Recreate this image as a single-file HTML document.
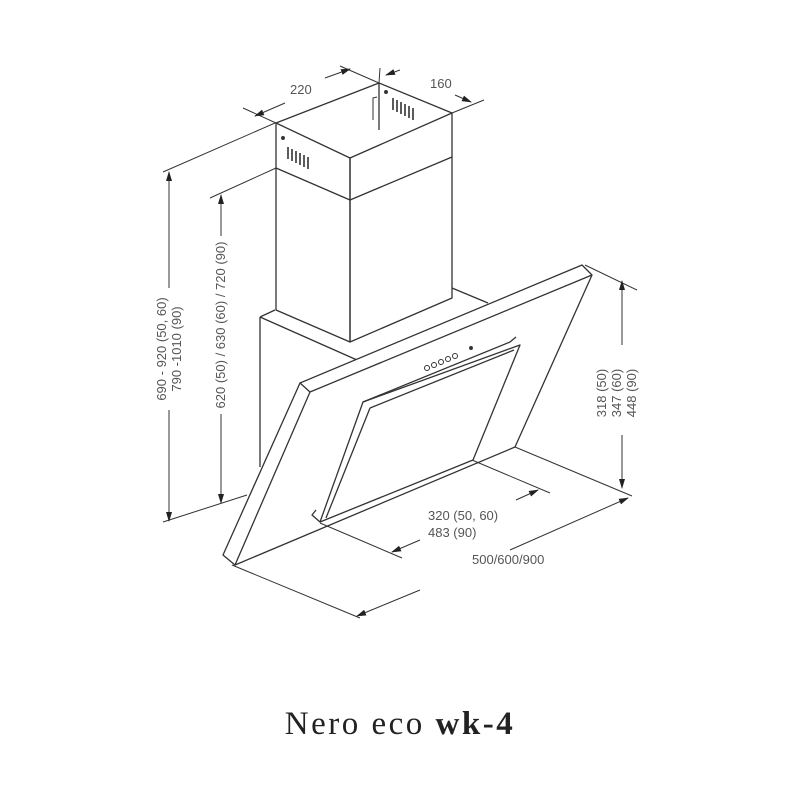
<!DOCTYPE html>
<html><head><style>
html,body{margin:0;padding:0;background:#fff;width:800px;height:800px;overflow:hidden}
svg{display:block}
text{font-family:"Liberation Sans",sans-serif;fill:#555;font-size:13px}
</style></head><body>
<svg width="800" height="800" viewBox="0 0 800 800" xmlns="http://www.w3.org/2000/svg">
<defs>
<marker id="a" markerWidth="10" markerHeight="8" refX="9" refY="4" orient="auto" markerUnits="userSpaceOnUse"><path d="M0,1 L10,4 L0,7 z" fill="#222"/></marker>
</defs>
<g fill="none" stroke="#333" stroke-width="1.3" stroke-linejoin="round">
<path d="M276,123 L379,83 L452,113 L350,158 Z" fill="#fff"/>
<path d="M276,123 L276,310 L350,342 L350,158"/>
<path d="M350,158 L350,342 L452,298 L452,113"/>
<path d="M276,168 L350,200 L452,157"/>
<path d="M379,83 L379,130" />
<path d="M373,120 L373,98 L377,97" stroke-width="1"/>
<g stroke-width="1.6">
<path d="M288,147 v12 M292,149 v12 M296,151 v12 M300,153 v12 M304,155 v12 M308,157 v12"/>
<path d="M393,98 v12 M397,100 v12 M401,102 v12 M405,104 v12 M409,106 v12 M413,108 v12"/>
</g>
<circle cx="283" cy="138" r="1.3" fill="#333"/>
<circle cx="386" cy="92" r="1.3" fill="#333"/>
<path d="M260,317 L275,310 M260,317 L357,360 M260,317 L260,467 M452,288 L488,303"/>
<path d="M300,383 L582,265 L592,275 L515,447 L235,565 L223,555 Z" fill="#fff"/>
<path d="M300,383 L310,392 L592,275 M310,392 L235,565"/>
<path d="M363,402 L520,345 L473,460 L320,522 Z"/>
<path d="M370,408 L514,350 M370,408 L326,518"/>
<path d="M363,402 L510,342 L516,337 M320,522 L312,515 L316,510"/>
<g stroke-width="1">
<circle cx="427" cy="368" r="2.5"/><circle cx="434" cy="365" r="2.5"/><circle cx="441" cy="362" r="2.5"/><circle cx="448" cy="359" r="2.5"/><circle cx="455" cy="356" r="2.5"/>
</g>
<circle cx="471" cy="348" r="1.3" fill="#333"/>
</g>
<g fill="none" stroke="#333" stroke-width="1">
<path d="M163,172 L275,123 M163,522 L247,495 M210,198 L276,168"/>
<path d="M169,288 L169,172" marker-end="url(#a)"/>
<path d="M169,410 L169,521" marker-end="url(#a)"/>
<path d="M221,236 L221,195" marker-end="url(#a)"/>
<path d="M221,414 L221,503" marker-end="url(#a)"/>
<path d="M585,265 L637,290 M515,447 L632,496"/>
<path d="M622,345 L622,281" marker-end="url(#a)"/>
<path d="M622,435 L622,488" marker-end="url(#a)"/>
<path d="M232,565 L360,618"/>
<path d="M420,590 L357,616" marker-end="url(#a)"/>
<path d="M510,550 L628,498" marker-end="url(#a)"/>
<path d="M320,523 L402,558 M472,460 L550,493"/>
<path d="M420,540 L392,552" marker-end="url(#a)"/>
<path d="M516,500 L538,490" marker-end="url(#a)"/>
<path d="M243,108 L276,123 M340,66 L379,83 M380,68 L379,83 M452,113 L484,100"/>
<path d="M285,103 L255,116" marker-end="url(#a)"/>
<path d="M325,78 L350,69" marker-end="url(#a)"/>
<path d="M400,70 L386,75" marker-end="url(#a)"/>
<path d="M455,95 L471,102" marker-end="url(#a)"/>
</g>
<text x="290" y="94">220</text>
<text x="430" y="88">160</text>
<g transform="translate(166,349) rotate(-90)"><text text-anchor="middle" x="0" y="0">690 - 920 (50, 60)</text><text text-anchor="middle" x="0" y="15">790 -1010 (90)</text></g>
<text transform="translate(225,325) rotate(-90)" text-anchor="middle">620 (50) / 630 (60) / 720 (90)</text>
<g transform="translate(606,393) rotate(-90)"><text text-anchor="middle" x="0" y="0">318 (50)</text><text text-anchor="middle" x="0" y="15">347 (60)</text><text text-anchor="middle" x="0" y="30">448 (90)</text></g>
<text x="428" y="520">320 (50, 60)</text>
<text x="428" y="537">483 (90)</text>
<text x="472" y="564">500/600/900</text>
<text x="400" y="734" text-anchor="middle" style="font-family:'Liberation Serif',serif;font-size:33px;fill:#222;letter-spacing:2.5px">Nero eco <tspan font-weight="bold">wk-4</tspan></text>
</svg>
</body></html>
